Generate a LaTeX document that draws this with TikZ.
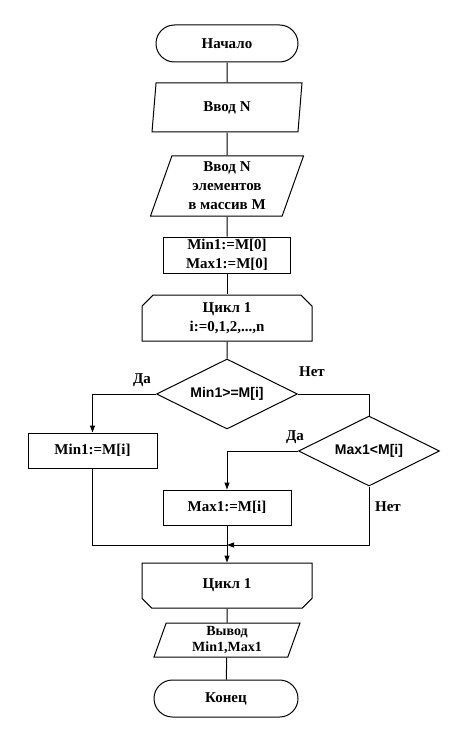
\documentclass[tikz,border=0pt]{standalone}
\usepackage{fontspec}
\setmainfont{Liberation Serif}
\setsansfont{Liberation Sans}
\usetikzlibrary{shapes.geometric}
\usetikzlibrary{shapes.misc}
\usetikzlibrary{arrows.meta}
\usetikzlibrary{positioning}

\begin{document}
\begin{tikzpicture}[x=1pt, y=-1pt, line width=1pt,
    every node/.style={font=\fontsize{15}{19}\selectfont\bfseries, align=center, inner sep=0pt},
    term/.style={draw, rounded rectangle, minimum width=142pt, minimum height=37pt},
    io/.style 2 args={draw, trapezium, trapezium left angle=#1, trapezium right angle=#2,
        trapezium stretches body},
    proc/.style={draw, rectangle, minimum width=128pt, minimum height=35pt},
    cond/.style={draw, diamond, aspect=2, minimum width=141pt, minimum height=70pt},
    loopbeg/.style={draw, chamfered rectangle, chamfered rectangle corners={north west, north east},
        chamfered rectangle xsep=8pt, minimum width=170pt, minimum height=46pt},
    loopend/.style={draw, chamfered rectangle, chamfered rectangle corners={south west, south east},
        chamfered rectangle xsep=8pt, minimum width=170pt, minimum height=45pt},
    lbl/.style={font=\fontsize{15}{17}\selectfont\bfseries},
    arr/.style={-{Triangle[length=7pt, width=5pt]}}]
    \useasboundingbox (0,0) rectangle (456,754);

    % blocks
    \node[term] (start) at (227,43.5) {Начало};
    \node[io={72}{108}, minimum width=150pt, minimum height=49pt] (inN) at (227,107.5) {Ввод N};
    \node[io={66}{114}, minimum width=153pt, minimum height=60pt] (inArr) at (227,186) {Ввод N\\элементов\\в массив M};
    \node[proc, minimum width=127pt, minimum height=36pt] (init) at (227,255) {Min1:=M[0]\\Max1:=M[0]};
    \node[loopbeg] (loopA) at (227,318) {Цикл 1\\i:=0,1,2,...,n};
    \node[cond, font=\fontsize{14}{17}\selectfont\bfseries\sffamily] (d1) at (227,394) {Min1>=M[i]};
    \node[cond, font=\fontsize{14}{17}\selectfont\bfseries\sffamily] (d2) at (369,451) {Max1<M[i]};
    \node[proc, minimum width=129pt] (minR) at (92.5,450.5) {Min1:=M[i]};
    \node[proc] (maxR) at (227,507.5) {Max1:=M[i]};
    \coordinate (j) at (227,545);
    \node[loopend] (loopB) at (227,585.5) {Цикл 1};
    \node[io={66}{114}, minimum width=146pt, minimum height=34pt,
        font=\fontsize{14}{16}\selectfont\bfseries] (out) at (227,640) {Вывод\\Min1,Max1};
    \node[term, minimum width=144pt] (end) at (226,698.5) {Конец};

    % labels
    \node[lbl] (yes1) at (142,380) {Да};
    \node[lbl] (no1) at (312,372) {Нет};
    \node[lbl] (yes2) at (295,437) {Да};
    \node[lbl] (no2) at (388,507) {Нет};

    % lines
    \draw[] (start) -- (inN);
    \draw[] (inN) -- (inArr);
    \draw[] (inArr) -- (init);
    \draw[] (init) -- (loopA);
    \draw[] (loopA) -- (d1);
    \draw[arr] (d1.west) -| (minR.north);
    \draw[] (d1.east) -| (d2.north);
    \draw[arr] (d2.west) -| (maxR.north);
    \draw[arr] (d2.south) |- (j);
    \draw[] (minR.south) |- (j);
    \draw[] (maxR.south) -- (j);
    \draw[arr] (j) -- (loopB.north);
    \draw[] (loopB) -- (out);
    \draw[] (out) -- (end);
\end{tikzpicture}
\end{document}
